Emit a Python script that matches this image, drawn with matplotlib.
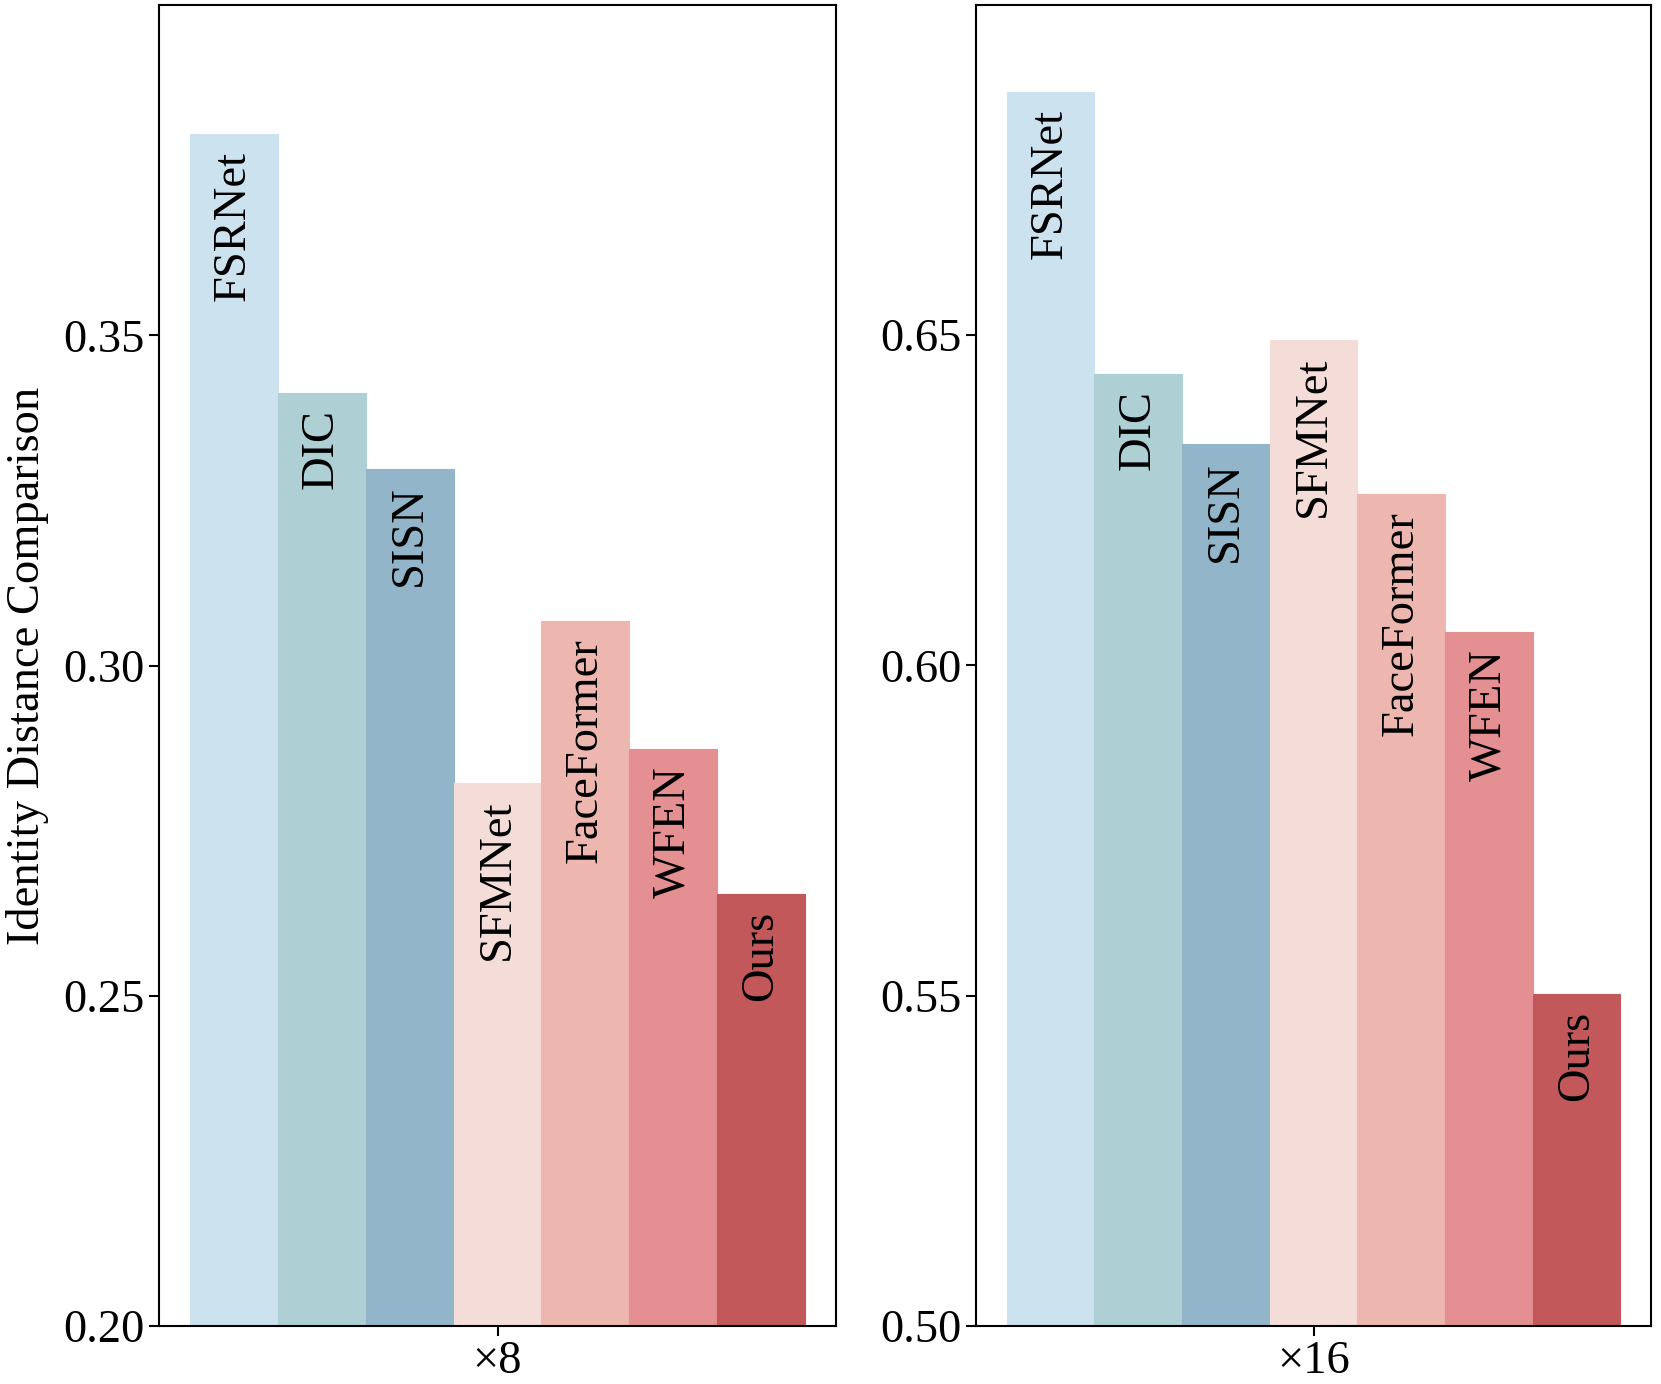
import numpy as np
import matplotlib
matplotlib.use("Agg")
import matplotlib.pyplot as plt

methods = ["FSRNet", "DIC", "SISN", "SFMNet", "FaceFormer", "WFEN", "Ours"]
vals_x8 = [0.3805, 0.3413, 0.3298, 0.2822, 0.3067, 0.2873, 0.2654]
vals_x16 = [0.6868, 0.6442, 0.6335, 0.6493, 0.6259, 0.6050, 0.5503]
colors = ["#cce3ef", "#aecfd4", "#92b5c9", "#f4ddd9", "#edb7b0", "#e49092", "#c2585a"]
scales = ["×8", "×16"]
ylims = [(0.20, 0.40), (0.50, 0.70)]
yticks = [[0.20, 0.25, 0.30, 0.35], [0.50, 0.55, 0.60, 0.65]]
ylabel = "Identity Distance Comparison"

plt.rcParams["font.family"] = ["Liberation Serif", "DejaVu Serif"]
FS = 33.5

W, H = 1661, 1384
fig = plt.figure(figsize=(W / 100, H / 100), dpi=100)
rects = [[159 / W, 58 / H, 677 / W, 1321 / H], [976 / W, 58 / H, 675 / W, 1321 / H]]

for i, vals in enumerate([vals_x8, vals_x16]):
    ax = fig.add_axes(rects[i])
    x = np.arange(len(methods))
    ax.bar(x, vals, width=1.0, color=colors, edgecolor=colors, linewidth=0.8)
    for xi, v, name in zip(x, vals, methods):
        ax.annotate(name, xy=(xi, v), xytext=(0, -12), textcoords="offset points",
                    rotation=90, ha="center", va="top", fontsize=FS)
    ax.set_ylim(*ylims[i])
    ax.set_yticks(yticks[i])
    ax.set_yticklabels([f"{t:.2f}" for t in yticks[i]])
    ax.set_xticks([np.mean(x)])
    ax.set_xticklabels([scales[i]])
    ax.tick_params(axis="both", labelsize=FS, width=1.5, length=7, direction="out")
    for sp in ax.spines.values():
        sp.set_linewidth(1.5)
    if i == 0:
        ax.set_ylabel(ylabel, fontsize=FS, labelpad=10)

fig.savefig("out.png", dpi=100)
